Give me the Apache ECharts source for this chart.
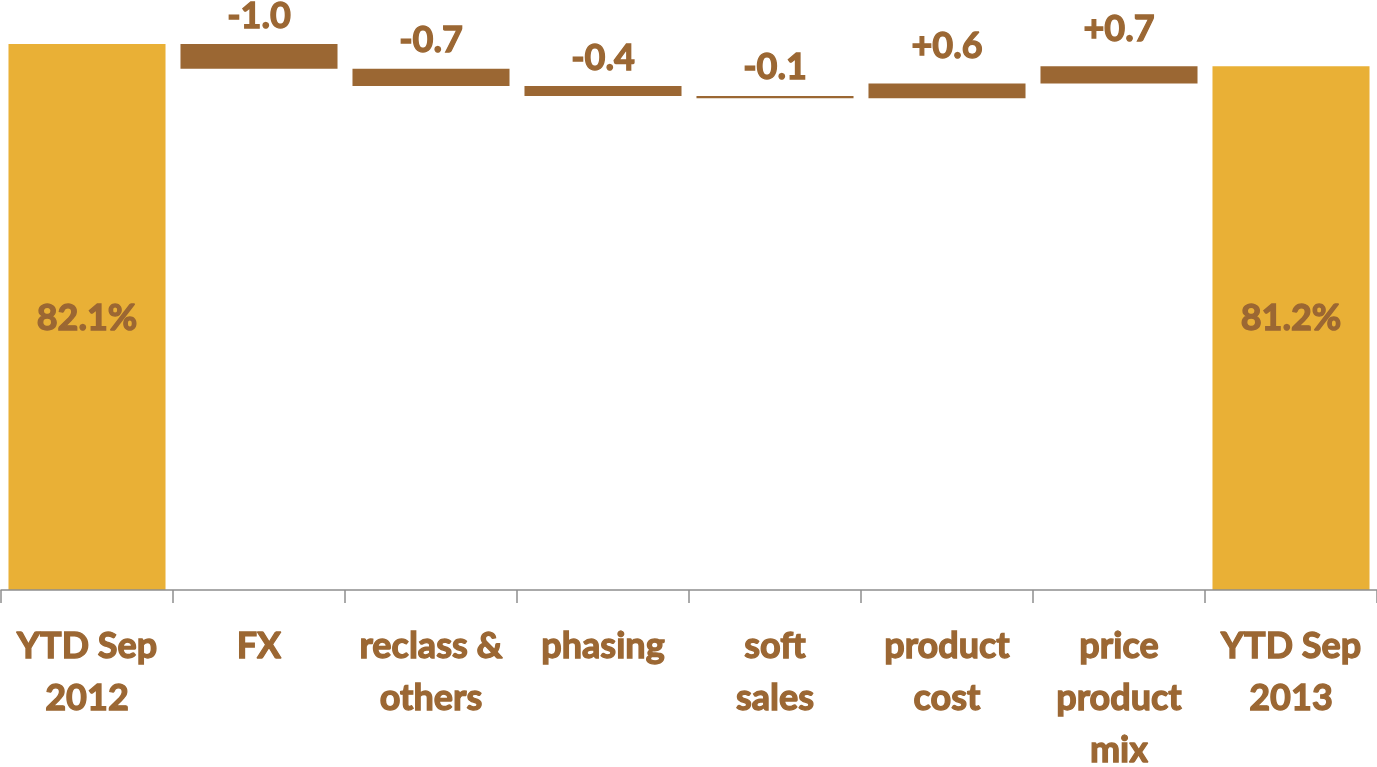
<!DOCTYPE html>
<html>
<head>
<meta charset="utf-8">
<title>Gross margin bridge YTD Sep 2012 to YTD Sep 2013</title>
<script src="https://cdn.jsdelivr.net/npm/echarts@6/dist/echarts.min.js"></script>
<style>
  html, body { margin: 0; padding: 0; background: #ffffff; overflow: hidden; }
  #chart { width: 1377px; height: 767px; }
</style>
</head>
<body>
<div id="chart"></div>
<script>
// Bridge categories (line breaks as shown under the axis)
const categories = [
  'YTD Sep\n2012', 'FX', 'reclass &\nothers', 'phasing',
  'soft\nsales', 'product\ncost', 'price\nproduct\nmix', 'YTD Sep\n2013'
];
// Opening and closing margin, in %
const startValue = 82.1;
const endValue = 81.2;
// Step changes between them, in percentage points
const changes = [-1.0, -0.7, -0.4, -0.1, 0.6, 0.7];
// Value axis range
const axisMin = 60;
const axisMax = 83.8;

const GOLD = '#E9B036';
const BROWN = '#9B6733';
const FONT = 'Lato, "Open Sans", sans-serif';

// Heavy bold text: bold face plus a thin outline in the same colour
const textStyle = {
  color: BROWN,
  fontFamily: FONT,
  fontWeight: 'bold',
  fontSize: 36,
  textBorderColor: BROWN,
  textBorderWidth: 1.3
};

const round1 = v => Math.round(v * 10) / 10;

// Build the floating segments: invisible base + visible step
const baseData = ['-'];
const stepData = ['-'];
let running = startValue;
changes.forEach(c => {
  const next = round1(running + c);
  baseData.push(Math.min(running, next));
  stepData.push({
    value: round1(Math.abs(c)),
    label: { distance: c < 0 ? 10 : 19 }
  });
  running = next;
});
baseData.push('-');
stepData.push('-');

const totalData = categories.map((_, i) =>
  i === 0 ? startValue : (i === categories.length - 1 ? endValue : '-'));

const chart = echarts.init(document.getElementById('chart'), null, { renderer: 'canvas' });

chart.setOption({
  animation: false,
  backgroundColor: '#ffffff',
  grid: {
    left: 1, right: 0, top: 2, height: 588,
    containLabel: false,
    outerBoundsMode: 'none'
  },
  xAxis: {
    type: 'category',
    data: categories,
    z: 10,
    axisLine: { show: true, lineStyle: { color: '#8E8E8E', width: 1.5 } },
    axisTick: { show: true, length: 13, alignWithLabel: false, lineStyle: { color: '#8E8E8E', width: 1.5 } },
    axisLabel: Object.assign({
      interval: 0,
      margin: 30,
      lineHeight: 52,
      align: 'center',
      hideOverlap: false
    }, textStyle)
  },
  yAxis: {
    type: 'value',
    min: axisMin,
    max: axisMax,
    show: false,
    splitLine: { show: false }
  },
  series: [
    {
      name: 'base',
      type: 'bar',
      stack: 'bridge',
      silent: true,
      barCategoryGap: '8.7%',
      itemStyle: { color: 'rgba(0,0,0,0)' },
      data: baseData
    },
    {
      name: 'step',
      type: 'bar',
      stack: 'bridge',
      barCategoryGap: '8.7%',
      itemStyle: { color: BROWN },
      label: Object.assign({
        show: true,
        position: 'top',
        formatter: p => {
          const c = changes[p.dataIndex - 1];
          return (c > 0 ? '+' : '') + c.toFixed(1);
        }
      }, textStyle),
      data: stepData
    },
    {
      name: 'total',
      type: 'bar',
      stack: 'bridge',
      barCategoryGap: '8.7%',
      itemStyle: { color: GOLD },
      label: Object.assign({
        show: true,
        position: 'insideBottom',
        distance: 254,
        formatter: p => p.value.toFixed(1) + '%'
      }, textStyle),
      data: totalData
    }
  ]
});
</script>
</body>
</html>
